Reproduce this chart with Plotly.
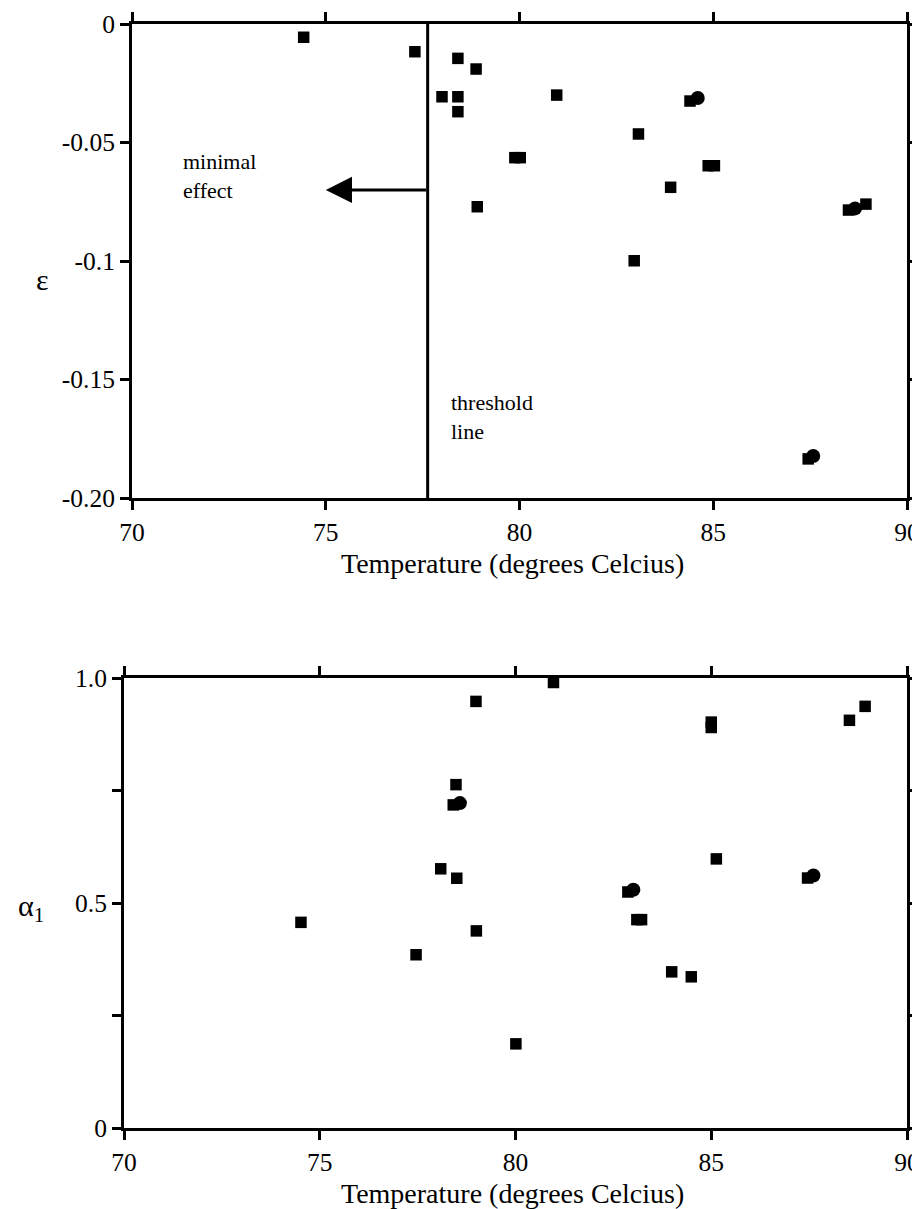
import plotly.graph_objects as go

# ---------------- data ----------------
# top panel: epsilon vs temperature
eps_sq_T = [74.43, 77.30, 78.00, 78.41, 78.41, 78.41, 78.88, 78.91, 79.88, 80.02,
            80.96, 82.96, 83.07, 83.90, 84.40, 84.87, 85.03, 87.45, 88.49, 88.94]
eps_sq_v = [-0.0056, -0.0117, -0.0307, -0.0145, -0.0307, -0.0370, -0.0190, -0.0771, -0.0564, -0.0564,
            -0.0300, -0.0999, -0.0464, -0.0689, -0.0325, -0.0598, -0.0598, -0.1835, -0.0785, -0.0760]
eps_ci_T = [84.60, 87.58, 88.66]
eps_ci_v = [-0.0312, -0.1823, -0.0778]

# bottom panel: alpha_1 vs temperature
a1_sq_T = [74.52, 77.46, 78.09, 78.48, 78.41, 78.50, 78.99, 79.00, 80.01, 80.97,
           82.87, 83.10, 83.22, 83.99, 84.49, 85.00, 85.00, 85.13, 87.46, 88.53, 88.93]
a1_sq_v = [0.457, 0.385, 0.576, 0.763, 0.718, 0.555, 0.948, 0.438, 0.187, 0.990,
           0.5245, 0.463, 0.463, 0.347, 0.336, 0.902, 0.890, 0.598, 0.5555, 0.906, 0.937]
a1_ci_T = [78.58, 83.01, 87.61]
a1_ci_v = [0.722, 0.5295, 0.561]

threshold_T = 77.63
arrow_head_T = 75.0
arrow_eps = -0.070

x_ticks = [70, 75, 80, 85, 90]
eps_ticks = [0, -0.05, -0.1, -0.15, -0.2]
eps_ticktext = ["0", "-0.05", "-0.1", "-0.15", "-0.20"]
a1_ticks = [0, 0.5, 1.0]
a1_ticktext = ["0", "0.5", "1.0"]
a1_minor_ticks = [0.25, 0.75]
x_title = "Temperature (degrees Celcius)"

# ---------------- figure ----------------
OFF = 8                      # default page margin around the plot
W, H = 920 - OFF, 1209 - OFF
FONT = "Liberation Serif"

def px_x(p):
    return (p - OFF) / W

def px_y(p):
    return 1 - (p - OFF) / H

fig = go.Figure()

mk_sq = dict(symbol="square", size=11.5, color="black")
mk_ci = dict(symbol="circle", size=14, color="black")

fig.add_trace(go.Scatter(x=eps_sq_T, y=eps_sq_v, mode="markers", marker=mk_sq, xaxis="x", yaxis="y"))
fig.add_trace(go.Scatter(x=eps_ci_T, y=eps_ci_v, mode="markers", marker=mk_ci, xaxis="x", yaxis="y"))
fig.add_trace(go.Scatter(x=a1_sq_T, y=a1_sq_v, mode="markers", marker=mk_sq, xaxis="x2", yaxis="y2"))
fig.add_trace(go.Scatter(x=a1_ci_T, y=a1_ci_v, mode="markers", marker=mk_ci, xaxis="x2", yaxis="y2"))

axis_common = dict(
    showline=True, linecolor="black", linewidth=3, mirror="ticks",
    ticks="outside", ticklen=9, tickwidth=2.5, tickcolor="black",
    showgrid=False, zeroline=False, automargin=False,
    tickfont=dict(family=FONT, size=25.5, color="black"),
)

fig.update_layout(
    width=W, height=H,
    margin=dict(l=0, r=0, t=0, b=0),
    paper_bgcolor="white", plot_bgcolor="white",
    showlegend=False,
    font=dict(family=FONT, color="black"),
    xaxis=dict(domain=[px_x(132), px_x(907)], range=[70, 90], tickvals=x_ticks,
               anchor="y", ticklabelstandoff=0, **axis_common),
    yaxis=dict(domain=[px_y(498), px_y(24)], range=[-0.2, 0], tickvals=eps_ticks,
               ticktext=eps_ticktext, anchor="x", ticklabelstandoff=0, **axis_common),
    xaxis2=dict(domain=[px_x(124), px_x(907)], range=[70, 90], tickvals=x_ticks,
                anchor="y2", ticklabelstandoff=0, **axis_common),
    yaxis2=dict(domain=[px_y(1128), px_y(678)], range=[0, 1.0], tickvals=a1_ticks,
                ticktext=a1_ticktext, anchor="x2", ticklabelstandoff=0,
                minor=dict(tickvals=a1_minor_ticks, ticks="outside", ticklen=9,
                           tickwidth=2.5, tickcolor="black", showgrid=False),
                **axis_common),
)

# x-axis titles
for yc in (563, 1193):
    fig.add_annotation(xref="paper", yref="paper", x=px_x(512), y=px_y(yc), text=x_title,
                       showarrow=False, xanchor="center", yanchor="middle", borderpad=0,
                       font=dict(family=FONT, size=28, color="black"))

# threshold line
fig.add_shape(type="line", xref="x", yref="y", x0=threshold_T, x1=threshold_T,
              y0=eps_ticks[-1], y1=eps_ticks[0], line=dict(color="black", width=3))

# arrow
fig.add_annotation(xref="x", yref="y", axref="x", ayref="y",
                   x=arrow_head_T, y=arrow_eps, ax=threshold_T, ay=arrow_eps,
                   text="", showarrow=True, arrowhead=2, arrowsize=1.75,
                   arrowwidth=3, arrowcolor="black", standoff=0, startstandoff=0)

ann_font = dict(family=FONT, size=22, color="black")
for txt, xv, yv in [("minimal<br>effect", 71.3, -0.0641),
                    ("threshold<br>line", 78.2, -0.1660)]:
    fig.add_annotation(xref="x", yref="y", x=xv, y=yv, text=txt, showarrow=False,
                       xanchor="left", yanchor="middle", align="left", borderpad=0,
                       font=ann_font)

# axis symbol labels
fig.add_annotation(xref="paper", yref="paper", x=px_x(42), y=px_y(280), text="ε",
                   showarrow=False, xanchor="center", yanchor="middle",
                   font=dict(family=FONT, size=30, color="black"))
fig.add_annotation(xref="paper", yref="paper", x=px_x(31), y=px_y(908), text="α<sub>1</sub>",
                   showarrow=False, xanchor="center", yanchor="middle",
                   font=dict(family=FONT, size=30, color="black"))

fig.write_html("out.html")
